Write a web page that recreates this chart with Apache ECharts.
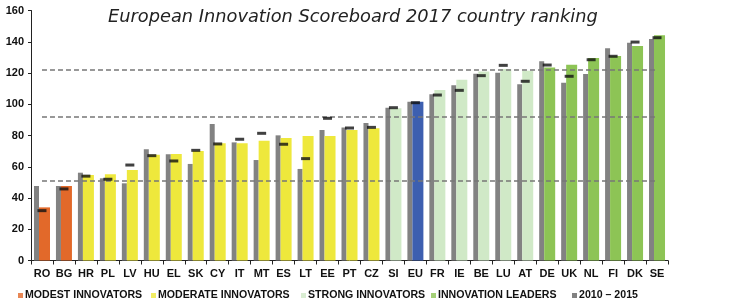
<!DOCTYPE html>
<html>
<head>
<meta charset="utf-8">
<script src="https://cdn.jsdelivr.net/npm/echarts@6/dist/echarts.min.js"></script>
<style>
html,body{margin:0;padding:0;background:#fff;}
#chart{width:750px;height:308px;}
</style>
</head>
<body>
<div id="chart"></div>
<script>
const categories = ['RO','BG','HR','PL','LV','HU','EL','SK','CY','IT','MT','ES','LT','EE','PT','CZ','SI','EU','FR','IE','BE','LU','AT','DE','UK','NL','FI','DK','SE'];
const groups = ['modest','modest','moderate','moderate','moderate','moderate','moderate','moderate','moderate','moderate','moderate','moderate','moderate','moderate','moderate','moderate','strong','eu','strong','strong','strong','strong','strong','leader','leader','leader','leader','leader','leader'];
const score2010 = [47.7,47.7,56.2,52.6,49.4,71.2,68.0,61.8,87.4,75.6,64.3,80.1,58.6,83.5,85.2,88.0,97.8,101.6,106.4,112.1,119.6,120.2,112.8,127.5,113.8,119.4,135.8,139.4,141.8];
const score2017 = [34.0,47.7,54.7,55.2,57.9,67.7,68.2,70.1,75.0,75.0,76.7,78.4,79.7,79.7,83.5,84.6,97.4,101.6,109.1,115.7,120.9,122.5,121.5,123.6,125.3,129.6,130.9,137.3,144.1];
const score2016 = [31.9,45.8,54.0,52.0,61.1,67.1,63.7,70.5,74.6,77.6,81.4,74.4,65.2,91.0,84.8,85.2,97.8,101.0,105.9,108.9,118.3,124.9,114.7,125.1,117.9,128.5,130.7,139.8,142.6];
const refLines = [122.4, 92.0, 51.0];
const yTicks = {min:0, max:160, interval:20};
const legendNames = ['MODEST INNOVATORS','MODERATE INNOVATORS','STRONG INNOVATORS','INNOVATION LEADERS','2010 – 2015'];
const titleText = 'European Innovation Scoreboard 2017 country ranking';

const colors = {modest:'#E2692A', moderate:'#EEE83C', strong:'#D0E9C7', leader:'#8DC455', eu:'#3D5FB0', gray:'#828282'};
const legendColors = [colors.modest, colors.moderate, colors.strong, colors.leader, colors.gray];
const legendLefts = [18, 151, 301, 431, 572];

const chart = echarts.init(document.getElementById('chart'), null, {renderer:'canvas'});

const dummySeries = legendNames.slice(0,4).map((n,i)=>({
  name:n, type:'scatter', data:[], itemStyle:{color:legendColors[i]}
}));

const option = {
  animation:false,
  backgroundColor:'#fff',
  title:{
    text:titleText, left:103, top:3,
    textStyle:{fontFamily:'DejaVu Sans', fontStyle:'italic', fontWeight:'normal', fontSize:17.8, color:'#222'}
  },
  legend: legendNames.map((n,i)=>({
    data:[{name:n, icon:'rect'}],
    left:legendLefts[i], top:290,
    itemWidth:5, itemHeight:5, itemGap:0,
    padding:0,
    selectedMode:false,
    textStyle:{fontFamily:'Liberation Sans', fontWeight:'bold', fontSize:10.6, color:'#111', padding:[0,0,0,-3]}
  })),
  grid:{left:31, right:82, top:10.5, height:250},
  xAxis:{
    type:'category', data:categories,
    axisLine:{lineStyle:{color:'#222', width:1}},
    axisTick:{show:true, length:4, lineStyle:{color:'#222'}},
    axisLabel:{fontFamily:'Liberation Sans', fontWeight:'bold', fontSize:11, color:'#111', margin:8, interval:0}
  },
  yAxis:{
    type:'value', min:yTicks.min, max:yTicks.max, interval:yTicks.interval,
    axisLine:{show:true, lineStyle:{color:'#222', width:1}},
    axisTick:{show:true, length:3, lineStyle:{color:'#222'}},
    splitLine:{show:false},
    axisLabel:{fontFamily:'Liberation Sans', fontWeight:'bold', fontSize:11, color:'#111', margin:7}
  },
  series:[
    {
      name:'2010 – 2015', type:'bar', data:score2010, barWidth:5, barGap:'0%',
      itemStyle:{color:colors.gray}, z:2
    },
    {
      name:'2017', type:'bar', barWidth:11, barGap:'0%',
      data:score2017.map((v,i)=>({value:v, itemStyle:{color:colors[groups[i]]}})), z:2
    },
    {
      name:'2016', type:'scatter', data:score2016, symbol:'rect', symbolSize:[9,3],
      itemStyle:{color:'#111'}, z:5,
      markLine:{
        silent:true, symbol:'none', label:{show:false},
        lineStyle:{color:'#777', type:[5,3], width:1.5},
        data: refLines.map(v=>[{coord:[categories[0],v]},{coord:[categories[categories.length-1],v]}])
      }
    }
  ].concat(dummySeries)
};
chart.setOption(option);
</script>
</body>
</html>
